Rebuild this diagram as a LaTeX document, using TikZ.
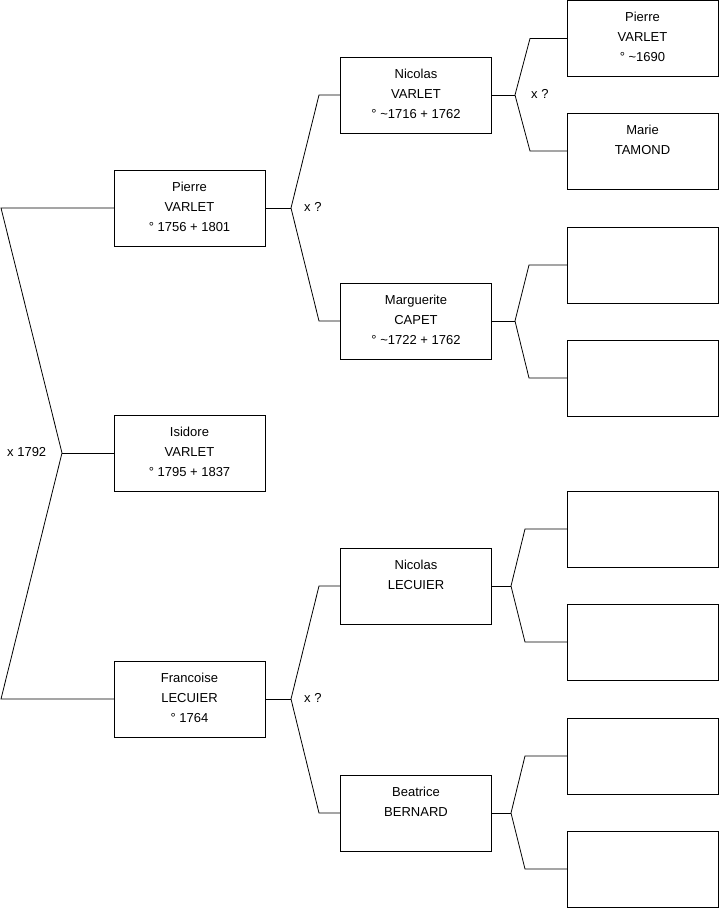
\documentclass[tikz,border=0pt]{standalone}
\usepackage{fontspec}
\setmainfont{Liberation Sans}
\newcommand{\bxtext}[3]{\vbox to 76pt{\offinterlineskip\hsize=151pt
\hbox to 151pt{\hss\vrule height 21pt depth 0pt width 0pt\smash{#1}\hss}
\hbox to 151pt{\hss\vrule height 20pt depth 0pt width 0pt\smash{#2}\hss}
\hbox to 151pt{\hss\vrule height 20pt depth 0pt width 0pt\smash{#3}\hss}
\vfil}}
\tikzset{
  pbox/.style={draw=black, line width=0.8pt, inner sep=0pt, outer sep=0pt, font=\fontsize{13}{20}\selectfont},
  conn/.style={draw=black, line width=0.8pt, line join=miter},
  lbl/.style={inner sep=0pt, font=\fontsize{13}{15}\selectfont}
}
\begin{document}
\begin{tikzpicture}[x=1pt,y=-1pt]
\useasboundingbox (0,0) rectangle (719,908);
% generation 1
\node[pbox] (p1) at (189.5,208) {\bxtext{Pierre}{VARLET}{° 1756 + 1801}};
\node[pbox] (is) at (189.5,453) {\bxtext{Isidore}{VARLET}{° 1795 + 1837}};
\node[pbox] (f1) at (189.5,699) {\bxtext{Francoise}{LECUIER}{° 1764}};
% generation 2
\node[pbox] (n1) at (416,95) {\bxtext{Nicolas}{VARLET}{° \textasciitilde1716 + 1762}};
\node[pbox] (m1) at (416,321) {\bxtext{Marguerite}{CAPET}{° \textasciitilde1722 + 1762}};
\node[pbox] (n2) at (416,586) {\bxtext{Nicolas}{LECUIER}{}};
\node[pbox] (b2) at (416,813) {\bxtext{Beatrice}{BERNARD}{}};
% generation 3
\node[pbox] (g1) at (642.5,38.5) {\bxtext{Pierre}{VARLET}{° \textasciitilde1690}};
\node[pbox] (g2) at (642.5,151) {\bxtext{Marie}{TAMOND}{}};
\node[pbox] (g3) at (642.5,265) {\bxtext{}{}{}};
\node[pbox] (g4) at (642.5,378) {\bxtext{}{}{}};
\node[pbox] (g5) at (642.5,529) {\bxtext{}{}{}};
\node[pbox] (g6) at (642.5,642) {\bxtext{}{}{}};
\node[pbox] (g7) at (642.5,756) {\bxtext{}{}{}};
\node[pbox] (g8) at (642.5,869) {\bxtext{}{}{}};
% branch coordinates
\coordinate (a1) at (1,208);
\coordinate (a2) at (62,453);
\coordinate (a3) at (1,699);
\coordinate (c1) at (291,208);
\coordinate (c1u) at (319,95);
\coordinate (c1d) at (319,321);
\coordinate (c2) at (291,699);
\coordinate (c2u) at (319,586);
\coordinate (c2d) at (319,813);
\coordinate (d1) at (515,95);
\coordinate (d1u) at (530,38.5);
\coordinate (d1d) at (530,151);
\coordinate (d2) at (515,321);
\coordinate (d2u) at (529,265);
\coordinate (d2d) at (529,378);
\coordinate (d3) at (511,586);
\coordinate (d3u) at (525,529);
\coordinate (d3d) at (525,642);
\coordinate (d4) at (511,813);
\coordinate (d4u) at (525,756);
\coordinate (d4d) at (525,869);
% connectors
\draw[conn] (p1.west) -- (a1) -- (a2) -- (a3) -- (f1.west);
\draw[conn] (a2) -- (is.west);
\draw[conn] (p1.east) -- (c1);
\draw[conn] (n1.west) -- (c1u) -- (c1) -- (c1d) -- (m1.west);
\draw[conn] (f1.east) -- (c2);
\draw[conn] (n2.west) -- (c2u) -- (c2) -- (c2d) -- (b2.west);
\draw[conn] (n1.east) -- (d1);
\draw[conn] (g1.west) -- (d1u) -- (d1) -- (d1d) -- (g2.west);
\draw[conn] (m1.east) -- (d2);
\draw[conn] (g3.west) -- (d2u) -- (d2) -- (d2d) -- (g4.west);
\draw[conn] (n2.east) -- (d3);
\draw[conn] (g5.west) -- (d3u) -- (d3) -- (d3d) -- (g6.west);
\draw[conn] (b2.east) -- (d4);
\draw[conn] (g7.west) -- (d4u) -- (d4) -- (d4d) -- (g8.west);
% labels
\node[lbl, anchor=base west] (l0) at (7,456) {x 1792};
\node[lbl, anchor=base west] (l1) at (304,211) {x ?};
\node[lbl, anchor=base west] (l2) at (304,702) {x ?};
\node[lbl, anchor=base west] (l3) at (531,98) {x ?};
\end{tikzpicture}
\end{document}
